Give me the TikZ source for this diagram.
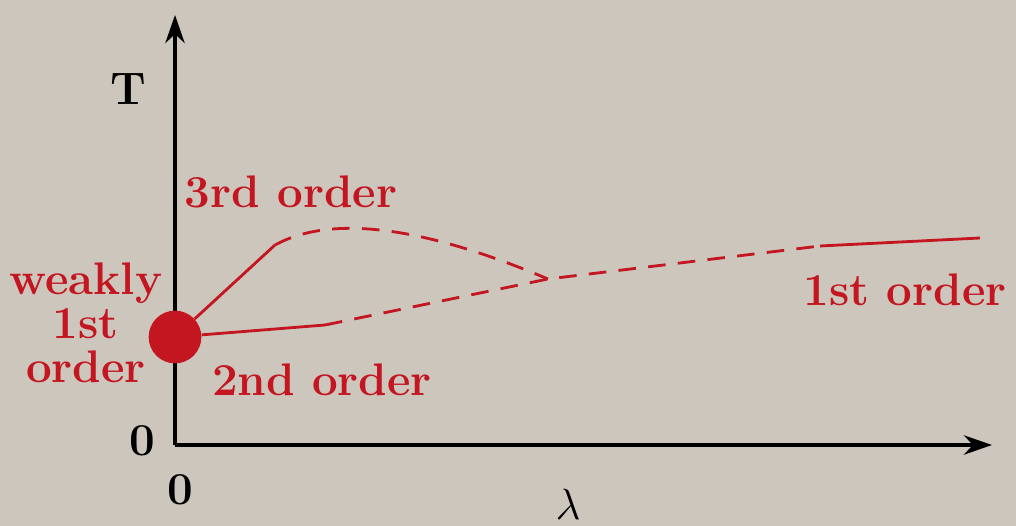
\documentclass[tikz,border=0pt]{standalone}
\usepackage{amsmath}
\usepackage{tikz}
\usetikzlibrary{arrows.meta}
\definecolor{paper}{RGB}{205,198,189}
\definecolor{phred}{RGB}{195,22,32}

\begin{document}
\begin{tikzpicture}[x=0.02cm,y=-0.02cm,
  lbl/.style={text=phred,font=\fontsize{26}{25}\selectfont\bfseries,inner sep=0pt},
  axlbl/.style={font=\fontsize{26}{28}\selectfont\bfseries,inner sep=0pt},
  crv/.style={phred,line width=1.6pt},
  dsh/.style={crv,dash pattern=on 10pt off 7pt}]
  \fill[paper] (0,0) rectangle (1016,526);
  \useasboundingbox (0,0) rectangle (1016,526);
  % axes
  \coordinate (o) at (175,445);
  \coordinate (ytip) at (175,15);
  \coordinate (xtip) at (992,445);
  \draw[line width=2.2pt,-{Stealth[length=16pt,width=11pt]}] (o) -- (ytip);
  \draw[line width=2.2pt,-{Stealth[length=16pt,width=11pt]}] (o) -- (xtip);
  \node[axlbl] (tlab) at (128,89) {T};
  \node[axlbl] (zy) at (142,441) {0};
  \node[axlbl] (zx) at (180,490) {0};
  \node[font=\fontsize{26}{28}\selectfont,inner sep=0pt] (lam) at (568,504) {$\lambda$};
  % transition lines
  \node[circle,fill=phred,minimum size=30pt,inner sep=0pt] (wk) at (175,337) {};
  \coordinate (a1) at (275,245);
  \coordinate (b1) at (325,325);
  \coordinate (x1) at (548,279);
  \coordinate (c1) at (820,246);
  \coordinate (e1) at (980,238);
  \draw[crv] (wk) -- (a1);
  \draw[dsh] (a1) .. controls (330,215) and (420,225) .. (x1);
  \draw[crv] (wk) -- (b1);
  \draw[dsh] (b1) -- (x1) -- (c1);
  \draw[crv] (c1) -- (e1);
  % labels
  \node[lbl] (third) at (291,192) {3rd order};
  \node[lbl] (second) at (322,380) {2nd order};
  \node[lbl] (first) at (905,290) {1st order};
  \node[lbl,align=center] (weak) at (86,323) {weakly\\[0pt]1st\\[0pt]order};
\end{tikzpicture}
\end{document}
